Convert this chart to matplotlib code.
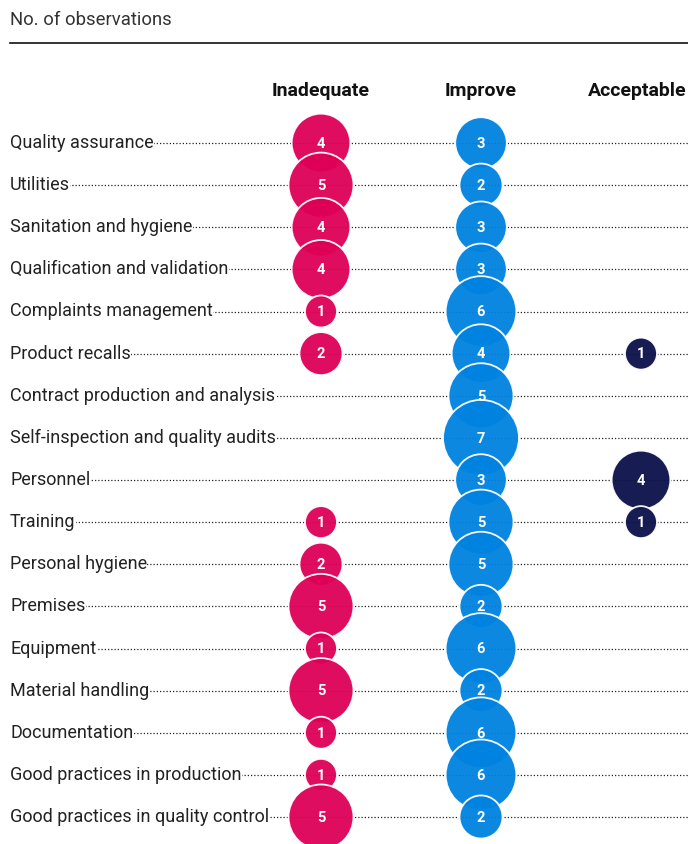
import matplotlib
matplotlib.use("Agg")
import matplotlib.pyplot as plt
import numpy as np

categories = [
    "Quality assurance", "Utilities", "Sanitation and hygiene",
    "Qualification and validation", "Complaints management", "Product recalls",
    "Contract production and analysis", "Self-inspection and quality audits",
    "Personnel", "Training", "Personal hygiene", "Premises", "Equipment",
    "Material handling", "Documentation", "Good practices in production",
    "Good practices in quality control",
]
columns = ["Inadequate", "Improve", "Acceptable"]
inadequate = [4, 5, 4, 4, 1, 2, 0, 0, 0, 1, 2, 5, 1, 5, 1, 1, 5]
improve = [3, 2, 3, 3, 6, 4, 5, 7, 3, 5, 5, 2, 6, 2, 6, 6, 2]
acceptable = [0, 0, 0, 0, 0, 1, 0, 0, 4, 1, 0, 0, 0, 0, 0, 0, 0]
subtitle = "No. of observations"

colors = ["#DE0056", "#0082E0", "#0A0F4A"]

W, H = 688, 844
fig = plt.figure(figsize=(W / 100, H / 100), dpi=100)
ax = fig.add_axes([0, 0, 1, 1])

# layout: row i at pixel y = y0 + dy*i ; column j at pixel x = x0 + dx*j
y0, dy = 143.0, 42.125
x0, dx = 321.0, 160.0
ax.set_ylim((H - y0) / dy, -y0 / dy)
ax.set_xlim(-x0 / dx, (W - x0) / dx)
ax.axis("off")

font = "Roboto"
n = len(categories)
rows = np.arange(n)

# dotted guide lines
ax.hlines(rows, (10 - x0) / dx, (W - x0) / dx, colors="#222222",
          linestyles=(0, (1, 1.6)), linewidth=0.9, zorder=1)

for i, c in enumerate(categories):
    ax.text((10 - x0) / dx, i, c, ha="left", va="center", fontsize=13.0,
            family=font, color="#222222", zorder=2,
            bbox=dict(facecolor="white", edgecolor="none", pad=0.3))

def diam_px(v):
    return 26.7 * np.sqrt(v) + 5.3

series = [inadequate, improve, acceptable]
for j, vals in enumerate(series):
    vals = np.array(vals, dtype=float)
    mask = vals > 0
    d = diam_px(vals[mask]) * 0.72
    ax.scatter(np.full(mask.sum(), j), rows[mask], s=d ** 2, c=colors[j],
               alpha=0.95, edgecolors="white", linewidths=1.3, zorder=3)
    for i in rows[mask]:
        ax.text(j, i + 0.02, f"{int(vals[i])}", ha="center", va="center",
                fontsize=10.5, fontweight="bold", family=font, color="white",
                zorder=4)
    if j == len(series) - 1:
        ax.text((W - 1 - x0) / dx, (91 - y0) / dy, columns[j], ha="right",
                va="center", fontsize=14, fontweight="bold", family=font,
                color="#111111")
    else:
        ax.text(j, (91 - y0) / dy, columns[j], ha="center", va="center",
                fontsize=14, fontweight="bold", family=font, color="#111111")

fig.text(10 / W, 1 - 20 / H, subtitle, ha="left", va="center", fontsize=13.3,
         family=font, color="#333333")
fig.add_artist(plt.Line2D([10 / W, 1], [1 - 43 / H, 1 - 43 / H],
                          color="#111111", linewidth=1.2,
                          transform=fig.transFigure))

fig.savefig("out.png", dpi=100)
